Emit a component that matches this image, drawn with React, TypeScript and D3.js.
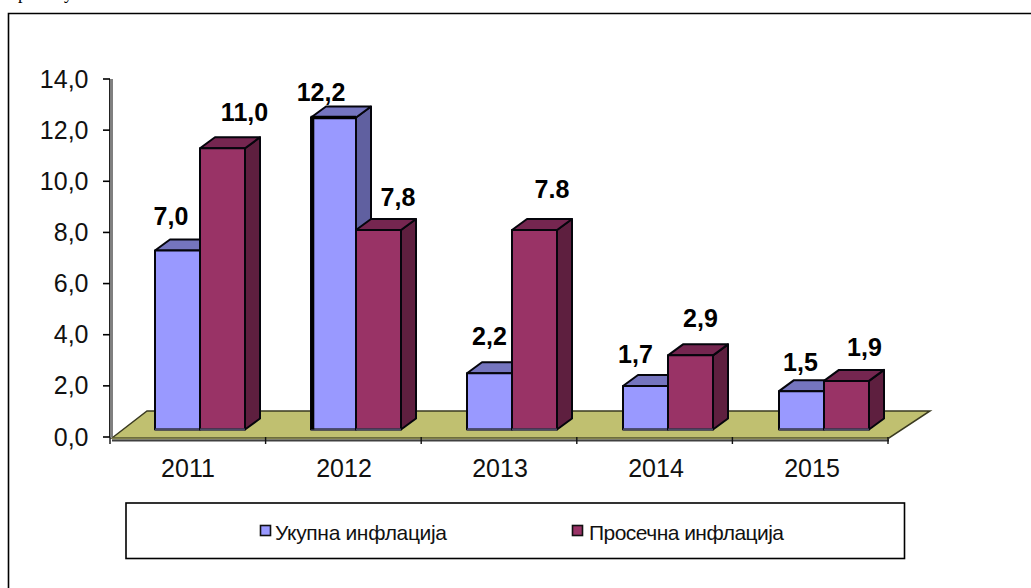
import React from "react";
import * as d3 from "d3";

const years = ["2011", "2012", "2013", "2014", "2015"];
const seriesNames = ["Укупна инфлација", "Просечна инфлација"];
const totalInflation = [7.0, 12.2, 2.2, 1.7, 1.5];
const averageInflation = [11.0, 7.8, 7.8, 2.9, 1.9];
const totalLabels = ["7,0", "12,2", "2,2", "1,7", "1,5"];
const averageLabels = ["11,0", "7,8", "7.8", "2,9", "1,9"];
const yTicks = [0, 2, 4, 6, 8, 10, 12, 14];

// label placement relative to the bar (hand-moved labels in the original)
const totalNudge = [[-6.5, 26], [-12.5, 17], [0, 28], [-10, 23], [-1, 20]];
const averageNudge = [[22, 27], [19.5, 24], [17.5, 32], [10, 28], [18, 25]];

const palettes = [
  { front: "#9999FF", top: "#7575BF", side: "#6060A0" },
  { front: "#993366", top: "#752650", side: "#5E1F3F" },
];

const W = 1031, H = 588;
const AXIS = "Arial, 'Liberation Sans', sans-serif";
const y = d3.scaleLinear().domain([0, 14]).range([437, 79]);
const xTick = d3.scaleBand<string>().domain(years).range([110, 888]);
const x0 = d3.scaleBand<string>().domain(years).range([110, 890]);
const step = x0.step();
const x1 = d3.scaleBand<number>().domain([0, 1]).range([45, 135]);
const depthX = 15, depthY = 11, baseLift = 7.5;
const floorDX = 37, floorDY = 26;
const fmt = (v: number) => d3.format(".1f")(v).replace(".", ",");
const poly = (pts: number[][]) => (d3.line()(pts as [number, number][]) || "") + "Z";

function Bar({ i, s, v }: { i: number; s: number; v: number }) {
  const left = (x0(years[i]) as number) + (x1(s) as number);
  const w = x1.bandwidth();
  const right = left + w;
  const top = y(v) - baseLift;
  const base = y(0) - baseLift;
  const p = palettes[s];
  return (
    <g stroke="#05050c" strokeWidth={2} strokeLinejoin="round">
      <path d={poly([[right, top], [right + depthX, top - depthY], [right + depthX, base - depthY], [right, base]])} fill={p.side} />
      <path d={poly([[left, top], [left + depthX, top - depthY], [right + depthX, top - depthY], [right, top]])} fill={p.top} />
      <rect x={left} y={top} width={w} height={base - top} fill={p.front} />
      <line x1={left} x2={right} y1={base} y2={base} stroke="#4a4a66" />
    </g>
  );
}

export default function App() {
  const legendY = 531;
  return (
    <svg width={W} height={H} style={{ position: "absolute", left: 0, top: 0, background: "#fff" }}>
      {/* clipped line of the surrounding document */}
      <text x={18} y={-1} fontFamily="'Liberation Serif', serif" fontSize={18}>р</text>
      <text x={64} y={-1} fontFamily="'Liberation Serif', serif" fontSize={18}>у</text>

      {/* outer frame: only top and left are inside the picture */}
      <path d={`M8.5 ${H}V13.5H${W}`} fill="none" stroke="#000" strokeWidth={1.6} />

      {/* wall axis */}
      <rect x={110} y={y(14)} width={3} height={y(0) - y(14)} fill="#808080" />
      <line x1={109.5} x2={109.5} y1={y(14)} y2={y(0)} stroke="#222" strokeWidth={1} />

      {/* floor */}
      <path
        d={poly([[112, y(0) + 1], [112 + floorDX - 2, y(0) - floorDY], [930, y(0) - floorDY], [889, y(0) + 1]])}
        fill="#C0C070"
        stroke="#3a3a20"
        strokeWidth={1.5}
      />
      <rect x={112} y={y(0) + 0.5} width={777} height={2} fill="#80804a" />
      <rect x={112} y={y(0) + 2.5} width={777} height={2} fill="#404040" />

      {/* y ticks */}
      {yTicks.map((t) => (
        <g key={t}>
          <line x1={103} x2={110} y1={y(t)} y2={y(t)} stroke="#000" strokeWidth={1.6} />
          <text
            x={88.5}
            y={y(t) + 8.5}
            textAnchor="end"
            fontFamily={AXIS}
            fontSize={25}
            fill="#111"
          >
            {fmt(t)}
          </text>
        </g>
      ))}

      {/* x ticks */}
      {[...years.map((d) => xTick(d) as number), 888].map((px) => (
        <line key={px} x1={px} x2={px} y1={y(0)} y2={y(0) + 7} stroke="#111" strokeWidth={1.4} />
      ))}
      {years.map((d) => (
        <text
          key={d}
          x={(x0(d) as number) + step / 2}
          y={477}
          textAnchor="middle"
          fontFamily={AXIS}
          fontSize={25}
          fill="#111"
        >
          {d}
        </text>
      ))}

      {/* bars */}
      {years.map((d, i) => (
        <g key={d}>
          <Bar i={i} s={0} v={totalInflation[i]} />
          <Bar i={i} s={1} v={averageInflation[i]} />
        </g>
      ))}

      {/* heavier outline of the selected 2012 bar */}
      <path
        d={`M${(x0("2012") as number) + 46.5} ${y(0) - baseLift}V${y(totalInflation[1]) - baseLift}H${(x0("2012") as number) + 45 + x1.bandwidth()}`}
        fill="none"
        stroke="#000"
        strokeWidth={3.6}
      />

      {/* data labels */}
      {years.map((d, i) => {
        const bw = x1.bandwidth();
        const cx = (s: number) => (x0(d) as number) + (x1(s) as number) + bw / 2;
        return (
          <g key={d} fontFamily={AXIS} fontSize={25} fontWeight={700} textAnchor="middle" fill="#000">
            <text x={cx(0) + totalNudge[i][0]} y={y(totalInflation[i]) - baseLift - totalNudge[i][1]}>
              {totalLabels[i]}
            </text>
            <text x={cx(1) + averageNudge[i][0]} y={y(averageInflation[i]) - baseLift - averageNudge[i][1]}>
              {averageLabels[i]}
            </text>
          </g>
        );
      })}

      {/* legend */}
      <rect x={126} y={503} width={778.5} height={55.5} fill="#fff" stroke="#000" strokeWidth={1.6} />
      {seriesNames.map((n, s) => {
        const mx = s === 0 ? 260.5 : 572.5;
        const tx = s === 0 ? 275 : 589;
        return (
          <g key={n}>
            <rect x={mx} y={legendY - 5.5} width={10} height={10} fill={palettes[s].front} stroke="#111" strokeWidth={1.6} />
            <text x={tx} y={legendY + 9} fontFamily={AXIS} fontSize={21} fill="#111" textLength={s === 0 ? 172 : 195} lengthAdjust="spacing">
              {n}
            </text>
          </g>
        );
      })}
    </svg>
  );
}
